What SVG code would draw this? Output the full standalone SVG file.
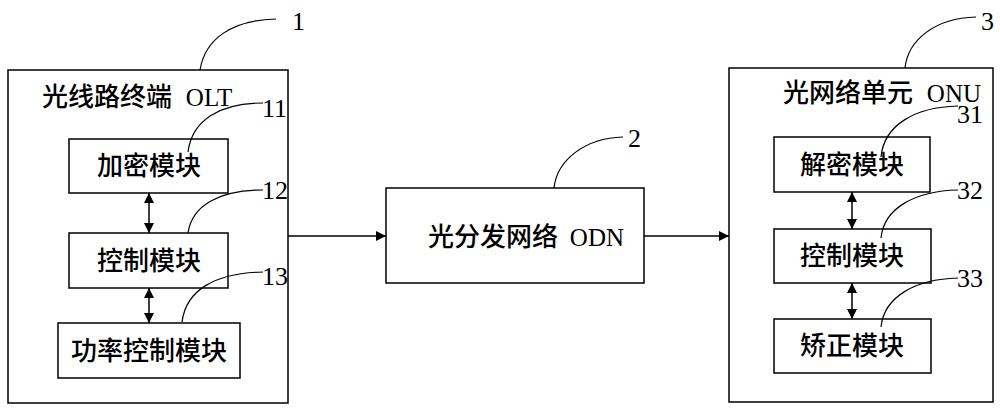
<svg xmlns="http://www.w3.org/2000/svg" width="1000" height="411" viewBox="0 0 1000 411">
<defs>
<marker id="ah" viewBox="0 0 10 10" refX="10" refY="5" markerWidth="10" markerHeight="10" markerUnits="userSpaceOnUse" orient="auto-start-reverse"><path d="M0,0 L10,5 L0,10 z" fill="#000"/></marker>
<style>
.box{fill:#fff;stroke:#000;stroke-width:1.5}
.t{font-family:"Noto Sans CJK SC","Liberation Serif",sans-serif;font-size:26px;font-weight:500;fill:#000;text-anchor:middle}
.tt{font-family:"Noto Sans CJK SC","Liberation Serif",sans-serif;font-size:26px;font-weight:500;fill:#000}
.lat{font-family:"Liberation Serif",serif;font-size:25px}
.n{font-family:"Liberation Serif",serif;font-size:26px;fill:#000}
.ld{fill:none;stroke:#000;stroke-width:1.2}
.c{fill:none;stroke:#000;stroke-width:1.5}
</style>
</defs>
<g id="olt">
<rect class="box" x="8" y="70" width="280" height="333"/>
<text class="tt" x="42" y="106">光线路终端 <tspan class="lat" dx="8">OLT</tspan></text>
</g>
<g id="m11"><rect class="box" x="69" y="139" width="159" height="54"/><text class="t" x="149" y="175">加密模块</text></g>
<g id="m12"><rect class="box" x="69" y="233" width="159" height="55"/><text class="t" x="149" y="270">控制模块</text></g>
<g id="m13"><rect class="box" x="58" y="323" width="182" height="55"/><text class="t" x="149" y="360">功率控制模块</text></g>
<g id="odn"><rect class="box" x="386" y="188" width="258" height="95"/><text class="tt" x="428" y="246">光分发网络 <tspan class="lat" dx="6">ODN</tspan></text></g>
<g id="onu">
<rect class="box" x="729" y="68" width="264" height="334"/>
<text class="tt" x="783" y="102">光网络单元 <tspan class="lat" dx="8">ONU</tspan></text>
</g>
<g id="m31"><rect class="box" x="774" y="137" width="156" height="55"/><text class="t" x="852" y="174">解密模块</text></g>
<g id="m32"><rect class="box" x="774" y="229" width="157" height="54"/><text class="t" x="852" y="265">控制模块</text></g>
<g id="m33"><rect class="box" x="774" y="319" width="157" height="54"/><text class="t" x="852" y="355">矫正模块</text></g>
<g id="labels">
<path class="ld" d="M200,70 C205,40 230,20 276,19"/><text class="n" x="292" y="30">1</text>
<path class="ld" d="M188,152 C192,120 220,103 263,103"/><text class="n" x="262" y="117">11</text>
<path class="ld" d="M188,233 C192,205 220,190 263,190"/><text class="n" x="262" y="199">12</text>
<path class="ld" d="M182,322 C186,290 215,273 263,272"/><text class="n" x="262" y="285">13</text>
<path class="ld" d="M554,188 C557,160 585,138 623,137"/><text class="n" x="628" y="147">2</text>
<path class="ld" d="M905,68 C908,40 935,18 976,17"/><text class="n" x="981" y="30">3</text>
<path class="ld" d="M881,157 C884,125 915,107 958,106"/><text class="n" x="957" y="123">31</text>
<path class="ld" d="M881,238 C884,208 915,191 958,190"/><text class="n" x="957" y="199">32</text>
<path class="ld" d="M881,327 C884,297 915,279 958,278"/><text class="n" x="957" y="287">33</text>
</g>
<g id="connectors">
<line class="c" x1="288" y1="236" x2="386" y2="236" marker-end="url(#ah)"/>
<line class="c" x1="644" y1="236" x2="729" y2="236" marker-end="url(#ah)"/>
<line class="c" x1="149" y1="193" x2="149" y2="233" marker-start="url(#ah)" marker-end="url(#ah)"/>
<line class="c" x1="149" y1="288" x2="149" y2="323" marker-start="url(#ah)" marker-end="url(#ah)"/>
<line class="c" x1="852" y1="192" x2="852" y2="229" marker-start="url(#ah)" marker-end="url(#ah)"/>
<line class="c" x1="852" y1="283" x2="852" y2="319" marker-start="url(#ah)" marker-end="url(#ah)"/>
</g>
</svg>
